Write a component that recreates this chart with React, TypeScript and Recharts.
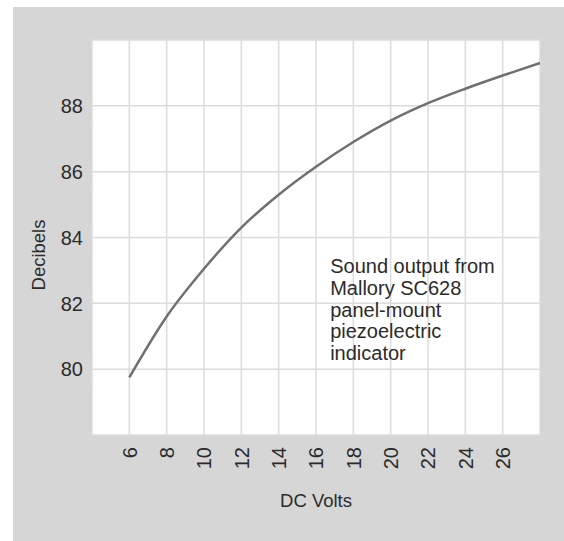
import {
  LineChart,
  Line,
  XAxis,
  YAxis,
  CartesianGrid,
  ReferenceDot,
  Label,
} from "recharts";

const volts = [6, 8, 10, 12, 14, 16, 18, 20, 22, 24, 26, 28];
const decibels = [79.75, 81.6, 83.05, 84.3, 85.3, 86.15, 86.9, 87.55, 88.08, 88.52, 88.92, 89.3];
const xTicks = [6, 8, 10, 12, 14, 16, 18, 20, 22, 24, 26];
const yTicks = [80, 82, 84, 86, 88];
const noteLines = [
  "Sound output from",
  "Mallory SC628",
  "panel-mount",
  "piezoelectric",
  "indicator",
];
const noteAt = { x: 16.76, y: 82.91 };

const FONT = "'Liberation Sans', Arial, sans-serif";
const INK = "#2b2b2b";

const data = volts.map((v, i) => ({ v, db: decibels[i] }));

function XTick({ x, y, payload }: any) {
  return (
    <g transform={`translate(${x},${y})`}>
      <text
        transform="rotate(-90)"
        textAnchor="end"
        dy="0.36em"
        fontSize={20}
        fontFamily={FONT}
        fill={INK}
      >
        {payload.value}
      </text>
    </g>
  );
}

function YTick({ x, y, payload }: any) {
  return (
    <text x={x} y={y} dy="0.36em" textAnchor="end" fontSize={20} fontFamily={FONT} fill={INK}>
      {payload.value}
    </text>
  );
}

function Note({ viewBox }: any) {
  const { x, y } = viewBox;
  return (
    <text x={x} y={y} fontSize={20} fontFamily={FONT} fill={INK}>
      {noteLines.map((t, i) => (
        <tspan key={t} x={x} dy={i === 0 ? 0 : 21.6}>
          {t}
        </tspan>
      ))}
    </text>
  );
}

export default function App() {
  return (
    <div style={{ position: "absolute", left: 0, top: 0, width: 564, height: 541, background: "#fff" }}>
      <div style={{ position: "absolute", left: 13, top: 7, width: 551, height: 534, background: "#d6d6d6" }}>
        <LineChart
          width={551}
          height={534}
          data={data}
          margin={{ top: 33, right: 24, bottom: 0, left: 0 }}
        >
          <CartesianGrid fill="#ffffff" stroke="#dcdcdc" strokeWidth={1.5} />
          <XAxis
            dataKey="v"
            type="number"
            domain={[4, 28]}
            ticks={xTicks}
            height={106}
            axisLine={false}
            tickLine={false}
            tickSize={0}
            tickMargin={12}
            tick={<XTick />}
            interval={0}
          >
            <Label
              content={({ viewBox }: any) => (
                <text
                  x={viewBox.x + viewBox.width / 2}
                  y={viewBox.y + viewBox.height - 34}
                  textAnchor="middle"
                  fontSize={18.5}
                  fontFamily={FONT}
                  fill={INK}
                >
                  DC Volts
                </text>
              )}
            />
          </XAxis>
          <YAxis
            type="number"
            domain={[78, 90]}
            ticks={yTicks}
            width={79}
            axisLine={false}
            tickLine={false}
            tickSize={0}
            tickMargin={9}
            tick={<YTick />}
            interval={0}
          >
            <Label
              content={({ viewBox }: any) => {
                const cx = viewBox.x + 25.3;
                const cy = viewBox.y + viewBox.height / 2 + 17.5;
                return (
                  <text
                    x={cx}
                    y={cy}
                    transform={`rotate(-90 ${cx} ${cy})`}
                    textAnchor="middle"
                    dy="0.36em"
                    fontSize={18.5}
                    fontFamily={FONT}
                    fill={INK}
                  >
                    Decibels
                  </text>
                );
              }}
            />
          </YAxis>
          <Line
            type="monotone"
            dataKey="db"
            stroke="#707070"
            strokeWidth={2.5}
            dot={false}
            isAnimationActive={false}
          />
          <ReferenceDot x={noteAt.x} y={noteAt.y} r={0} fill="none" stroke="none">
            <Label content={<Note />} />
          </ReferenceDot>
        </LineChart>
      </div>
    </div>
  );
}
